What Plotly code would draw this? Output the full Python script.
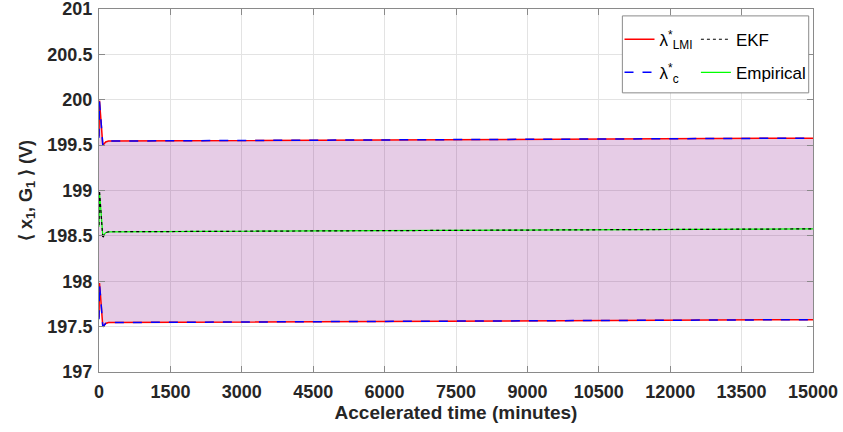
import plotly.graph_objects as go

# accelerated time (minutes)
t_min = [0, 10, 30, 55, 80, 100, 140, 200, 1000, 3000, 6000, 9000, 12000, 15000]

# bounds from lambda*_LMI and lambda*_c (V)
lmi_upper = [199.60, 199.99, 199.85, 199.65, 199.50, 199.51, 199.535, 199.545, 199.547, 199.550,
             199.555, 199.560, 199.567, 199.577]
lmi_lower = [197.60, 197.98, 197.85, 197.65, 197.50, 197.51, 197.535, 197.545, 197.547, 197.550,
             197.555, 197.560, 197.567, 197.577]
c_upper = [199.58, 199.98, 199.85, 199.65, 199.50, 199.51, 199.535, 199.545, 199.547, 199.550,
           199.555, 199.560, 199.567, 199.577]
c_lower = [197.58, 197.96, 197.85, 197.65, 197.50, 197.51, 197.535, 197.545, 197.547, 197.550,
           197.555, 197.560, 197.567, 197.577]

# mean estimates (V)
ekf = [198.62, 199.00, 198.85, 198.62, 198.47, 198.50, 198.535, 198.545, 198.547, 198.550,
       198.555, 198.560, 198.567, 198.577]
empirical = [198.60, 198.97, 198.85, 198.64, 198.50, 198.51, 198.535, 198.545, 198.547, 198.550,
             198.555, 198.560, 198.567, 198.577]

x_ticks = [0, 1500, 3000, 4500, 6000, 7500, 9000, 10500, 12000, 13500, 15000]
y_ticks = [197, 197.5, 198, 198.5, 199, 199.5, 200, 200.5, 201]
y_tick_text = ["197", "197.5", "198", "198.5", "199", "199.5", "200", "200.5", "201"]

FONT = "Liberation Sans, Arial, sans-serif"

fig = go.Figure()

# shaded band between bounds
fig.add_trace(go.Scatter(x=t_min, y=lmi_lower, mode="lines", line=dict(width=0),
                         showlegend=False, hoverinfo="skip"))
fig.add_trace(go.Scatter(x=t_min, y=lmi_upper, mode="lines", line=dict(width=0),
                         fill="tonexty", fillcolor="rgba(128,0,128,0.2)",
                         showlegend=False, hoverinfo="skip"))

# lambda*_LMI (red solid)
fig.add_trace(go.Scatter(x=t_min, y=lmi_upper, mode="lines", name="λ<sup>*</sup><sub>LMI</sub>",
                         line=dict(color="#ff0000", width=1.5), legend="legend", legendgroup="lmi",
                         legendrank=1))
fig.add_trace(go.Scatter(x=t_min, y=lmi_lower, mode="lines", showlegend=False,
                         line=dict(color="#ff0000", width=1.5), legendgroup="lmi"))

# lambda*_c (blue dashed)
fig.add_trace(go.Scatter(x=t_min, y=c_upper, mode="lines", name="λ<sup>*</sup><sub>c</sub>",
                         line=dict(color="#0000ff", width=1.5, dash="dash"), legend="legend",
                         legendgroup="c", legendrank=2))
fig.add_trace(go.Scatter(x=t_min, y=c_lower, mode="lines", showlegend=False,
                         line=dict(color="#0000ff", width=1.5, dash="dash"), legendgroup="c"))

# Empirical (green) and EKF (black dotted)
fig.add_trace(go.Scatter(x=t_min, y=empirical, mode="lines", name="Empirical",
                         line=dict(color="#00ff00", width=1.2), legend="legend2",
                         legendgroup="emp", legendrank=2))
fig.add_trace(go.Scatter(x=t_min, y=ekf, mode="lines", name="EKF",
                         line=dict(color="#000000", width=1.2, dash="dot"), legend="legend2",
                         legendgroup="ekf", legendrank=1))

axis_common = dict(
    showline=True, linecolor="#8a8a8a", linewidth=1, mirror="ticks",
    ticks="inside", ticklen=6, tickcolor="#8a8a8a",
    showgrid=True, gridcolor="#e3e3e3", gridwidth=1, zeroline=False, automargin=False,
    ticklabeloverflow="allow",
    tickfont=dict(family=FONT, size=18, color="#262626", weight="bold"),
)

fig.update_xaxes(range=[0, 15000], tickvals=x_ticks, ticktext=[str(v) for v in x_ticks],
                 ticklabelstandoff=3,
                 title=dict(text="Accelerated time (minutes)", standoff=5,
                            font=dict(family=FONT, size=19, color="#262626", weight="bold")),
                 **axis_common)
fig.update_yaxes(range=[197, 201], tickvals=y_ticks, ticktext=y_tick_text,
                 ticklabelstandoff=2,
                 title=dict(text="⟨ x<sub>1</sub>, G<sub>1</sub> ⟩ (V)", standoff=10,
                            font=dict(family=FONT, size=18, color="#262626", weight="bold")),
                 **axis_common)

legend_font = dict(family=FONT, size=17, color="#000000")
fig.update_layout(
    width=843, height=432,
    margin=dict(l=99, r=30, t=9, b=60),
    plot_bgcolor="white", paper_bgcolor="white",
    legend=dict(x=0.729, y=0.965, xanchor="left", yanchor="top", bgcolor="rgba(0,0,0,0)",
                font=legend_font, itemwidth=30, tracegroupgap=8, traceorder="grouped"),
    legend2=dict(x=0.836, y=0.965, xanchor="left", yanchor="top", bgcolor="rgba(0,0,0,0)",
                 font=legend_font, itemwidth=30, tracegroupgap=8, traceorder="grouped"),
    shapes=[dict(type="rect", xref="paper", yref="paper", x0=0.733, x1=0.994, y0=0.769, y1=0.981,
                 line=dict(color="#8a8a8a", width=1), fillcolor="white", layer="above")],
)

fig.write_html("out.html", config={"displayModeBar": False},
               post_script="document.body.style.margin='0';")
